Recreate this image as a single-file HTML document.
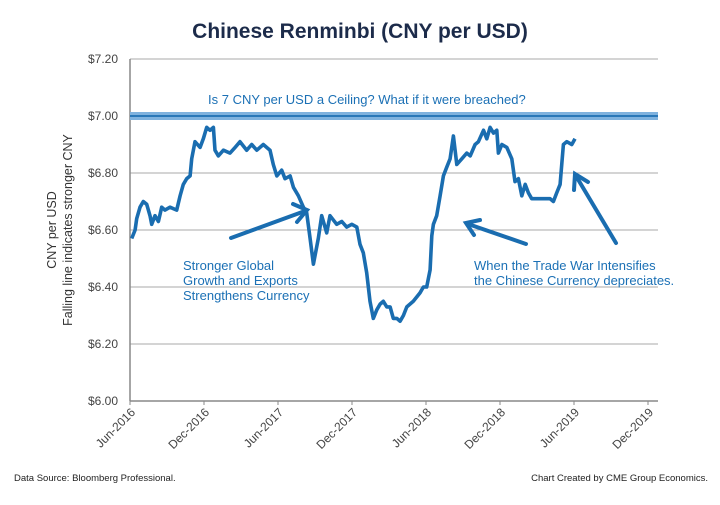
<!DOCTYPE html>
<html><head><meta charset="utf-8"><style>
body{margin:0;background:#fff;}
svg text{font-family:"Liberation Sans",sans-serif;}
</style></head><body>
<svg id="c" width="720" height="500" viewBox="0 0 720 500" xmlns="http://www.w3.org/2000/svg">
<text x="360" y="38" text-anchor="middle" font-size="21" font-weight="bold" fill="#1c2b4a">Chinese Renminbi (CNY per USD)</text>
<g id="grid"></g>
<g id="yt"></g>
<g id="xt"></g>
<text transform="translate(56,230) rotate(-90)" text-anchor="middle" font-size="12.5" fill="#333"><tspan x="0" dy="0">CNY per  USD</tspan><tspan x="0" dy="16">Falling line indicates stronger CNY</tspan></text>
<g id="ceil"></g>
<text x="208" y="104" font-size="13" fill="#1b70b5">Is 7 CNY per USD a Ceiling?  What if it were breached?</text>
<path id="ln" fill="none" stroke="#1a6db0" stroke-width="3.6" stroke-linejoin="round"/>
<g stroke="#1a6db0" stroke-width="4" fill="none" stroke-linecap="round">
<line x1="231" y1="238" x2="305" y2="211"/><polyline points="293,204 307,210 297,222"/>
<line x1="526" y1="244" x2="468" y2="224"/><polyline points="474,235 466,223 480,220"/>
<line x1="616" y1="243" x2="576" y2="176"/><polyline points="574,190 575,174 588,182"/>
</g>
<text font-size="13" fill="#1b70b5"><tspan x="183" y="270">Stronger Global</tspan><tspan x="183" y="285">Growth and Exports</tspan><tspan x="183" y="300">Strengthens Currency</tspan></text>
<text font-size="13" fill="#1b70b5"><tspan x="474" y="270">When the Trade War  Intensifies</tspan><tspan x="474" y="285">the Chinese Currency depreciates.</tspan></text>
<text x="14" y="481" font-size="9.5" fill="#222">Data Source:  Bloomberg Professional.</text>
<text x="708" y="481" text-anchor="end" font-size="9.5" fill="#222">Chart Created by CME Group Economics.</text>
</svg>
<script>
const yTicks=[6.00,6.20,6.40,6.60,6.80,7.00,7.20];
const xTickLabels=["Jun-2016","Dec-2016","Jun-2017","Dec-2017","Jun-2018","Dec-2018","Jun-2019","Dec-2019"];
const monthsSinceJun2016=[0.14,0.41,0.54,0.81,1.08,1.35,1.62,1.76,2.03,2.30,2.57,2.84,3.24,3.79,4.06,4.32,4.60,4.87,5.00,5.27,5.68,5.94,6.22,6.49,6.76,6.89,7.16,7.57,8.11,8.52,8.92,9.46,9.87,10.28,10.81,11.35,11.62,11.90,12.30,12.57,12.98,13.25,13.65,14.06,14.33,14.60,14.87,15.27,15.54,15.95,16.22,16.76,17.17,17.57,17.98,18.39,18.65,18.92,19.19,19.46,19.73,20.01,20.28,20.54,20.82,21.09,21.35,21.63,21.90,22.17,22.44,22.97,23.52,23.79,24.06,24.33,24.47,24.60,24.87,25.14,25.41,25.68,25.95,26.22,26.50,26.90,27.31,27.58,27.98,28.25,28.66,28.93,29.20,29.47,29.74,29.87,30.15,30.55,30.96,31.22,31.49,31.77,32.04,32.30,32.57,32.98,33.51,34.06,34.33,34.60,34.87,35.14,35.42,35.82,36.08];
const cnyPerUsd=[6.57,6.60,6.64,6.68,6.70,6.69,6.65,6.62,6.65,6.63,6.68,6.67,6.68,6.67,6.72,6.76,6.78,6.79,6.85,6.91,6.89,6.92,6.96,6.95,6.96,6.88,6.86,6.88,6.87,6.89,6.91,6.88,6.90,6.88,6.90,6.88,6.83,6.79,6.81,6.78,6.79,6.75,6.72,6.68,6.66,6.57,6.48,6.57,6.65,6.59,6.65,6.62,6.63,6.61,6.62,6.61,6.55,6.52,6.45,6.35,6.29,6.32,6.34,6.35,6.33,6.33,6.29,6.29,6.28,6.30,6.33,6.35,6.38,6.40,6.40,6.46,6.58,6.62,6.65,6.72,6.79,6.82,6.85,6.93,6.83,6.85,6.87,6.86,6.90,6.91,6.95,6.92,6.96,6.94,6.95,6.87,6.90,6.89,6.85,6.77,6.78,6.72,6.76,6.73,6.71,6.71,6.71,6.71,6.70,6.73,6.76,6.90,6.91,6.90,6.92];
const ceilingValue=7.00;
const NS="http://www.w3.org/2000/svg";
const X0=130,X1=648,XR=658,Y0=401,Y1=59;
const yMin=6.0,yMax=7.2,mMax=42;
const xs=m=>X0+(m/mMax)*(X1-X0);
const ys=v=>Y0-(v-yMin)/(yMax-yMin)*(Y0-Y1);
function mk(t,p,a){const e=document.createElementNS(NS,t);for(const k in a)e.setAttribute(k,a[k]);p.appendChild(e);return e;}
const grid=document.getElementById('grid'),yt=document.getElementById('yt'),xt=document.getElementById('xt');
yTicks.forEach((v,i)=>{
  const l=mk('line',grid,{x1:X0,x2:XR,y1:ys(v),y2:ys(v),stroke:i==0?'#888':'#aaa','stroke-width':i==0?1.5:1});
  
  
  const t=mk('text',yt,{x:118,y:ys(v)+4,'text-anchor':'end','font-size':12,fill:'#444'});
  
  
  t.textContent='$'+v.toFixed(2);
});
const ax=mk('line',grid,{x1:X0,x2:X0,y1:Y1,y2:Y0,stroke:'#888','stroke-width':1.5});


xTickLabels.forEach((s,i)=>{
  const x=xs(i*6);
  const tk=mk('line',xt,{x1:x,x2:x,y1:Y0,y2:Y0+4,stroke:'#888'});
  
  
  const t=mk('text',xt,{x:x+6,y:Y0+12,'text-anchor':'end','font-size':12,fill:'#444',transform:`rotate(-45 ${x+6} ${Y0+12})`});
  
  
  t.textContent=s;
});
const ce=document.getElementById('ceil');
const cb=mk('line',ce,{x1:X0,x2:XR,y1:ys(ceilingValue),y2:ys(ceilingValue),stroke:'#7fb2de','stroke-width':8});


const cl=mk('line',ce,{x1:X0,x2:XR,y1:ys(ceilingValue),y2:ys(ceilingValue),stroke:'#2a78b8','stroke-width':2});


document.getElementById('ln').setAttribute('d',monthsSinceJun2016.map((m,i)=>(i?'L':'M')+xs(m).toFixed(1)+','+ys(cnyPerUsd[i]).toFixed(1)).join(''));
</script>
</body></html>
